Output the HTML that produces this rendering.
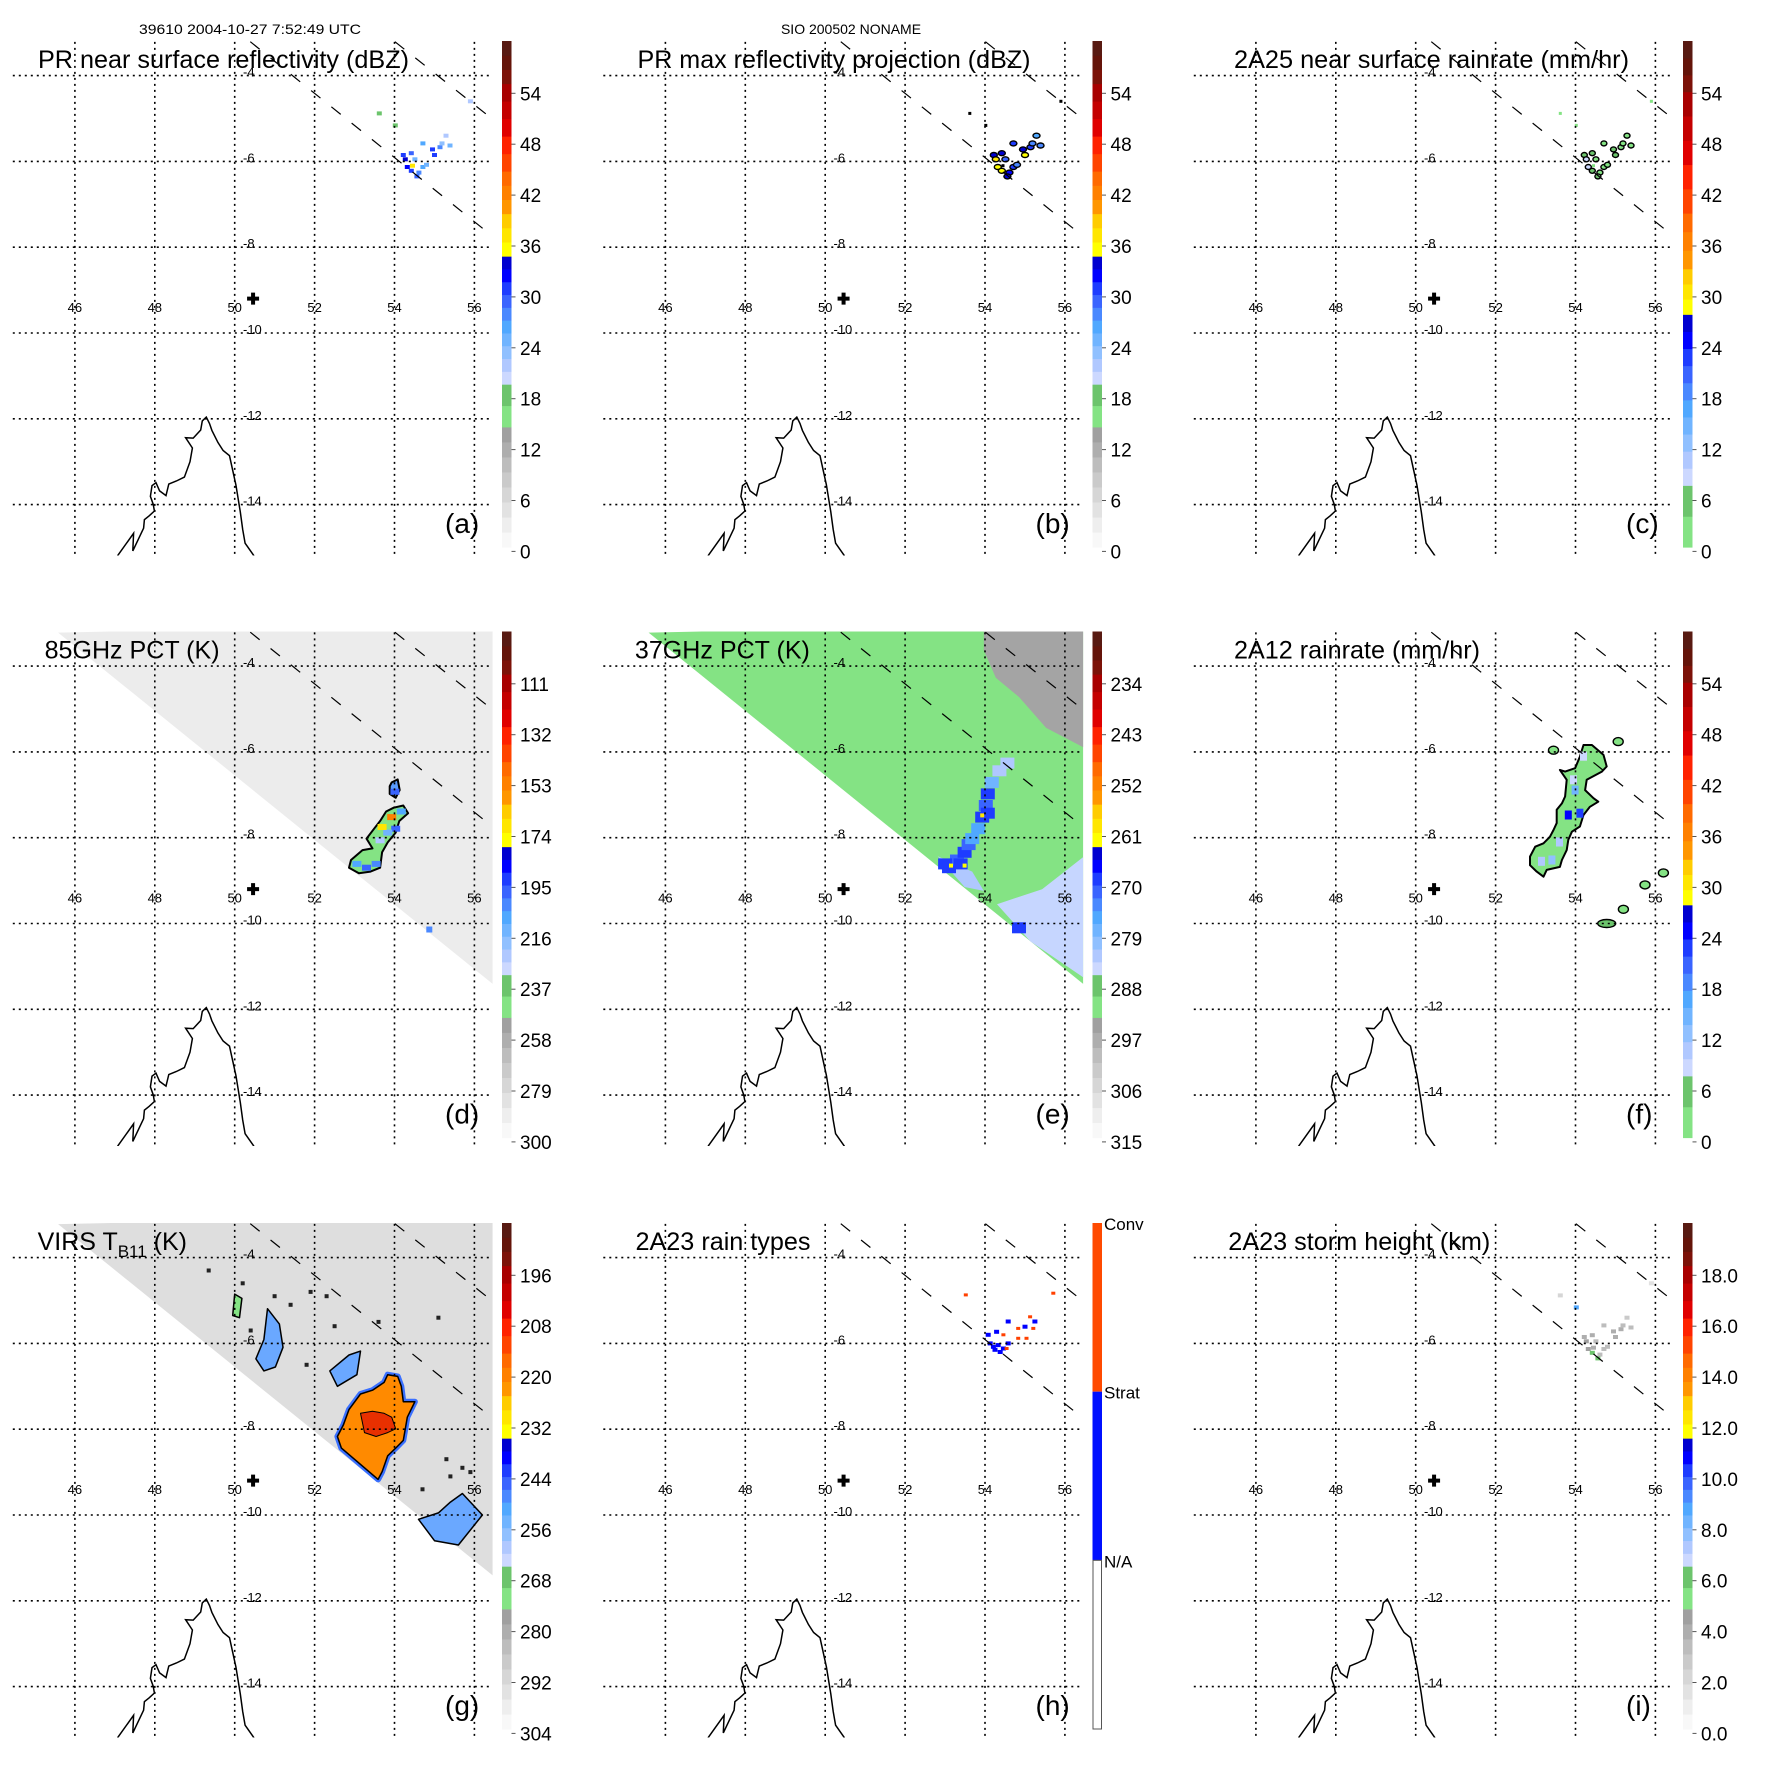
<!DOCTYPE html>
<html><head><meta charset="utf-8"><title>TRMM overpass panels</title>
<style>
html,body{margin:0;padding:0;background:#fff;}
svg{display:block;font-family:"Liberation Sans",Arial,sans-serif;}
</style></head>
<body>
<svg id="fig" xmlns="http://www.w3.org/2000/svg" width="1771" height="1771" viewBox="0 0 1771 1771">
<rect x="0" y="0" width="1771" height="1771" fill="#fff"/>
<text x="139" y="34" font-size="14" textLength="222" lengthAdjust="spacingAndGlyphs">39610 2004-10-27 7:52:49 UTC</text>
<text x="851" y="34" font-size="14" text-anchor="middle">SIO 200502 NONAME</text>
</svg>
<script>
// ---------- data ----------
const gridLons=[46,48,50,52,54,56];
const gridLats=[-4,-6,-8,-10,-12,-14];
const dbzLabels=['0','6','12','18','24','30','36','42','48','54'];
const rainLabels=['0','6','12','18','24','30','36','42','48','54'];
const pct85Labels=['300','279','258','237','216','195','174','153','132','111'];
const pct37Labels=['315','306','297','288','279','270','261','252','243','234'];
const virsLabels=['304','292','280','268','256','244','232','220','208','196'];
const heightLabels=['0.0','2.0','4.0','6.0','8.0','10.0','12.0','14.0','16.0','18.0'];
const typeLabels=['Conv','Strat','N/A'];
const coastLon=[47.07,47.47,47.45,47.72,47.74,47.86,47.99,47.96,47.89,47.93,48.03,48.12,48.28,48.35,48.54,48.74,48.88,48.94,48.77,48.96,49.15,49.19,49.29,49.37,49.43,49.58,49.71,49.87,49.95,50.03,50.14,50.20,50.26,50.48];
const coastLat=[-15.19,-14.67,-15.08,-14.55,-14.35,-14.26,-14.15,-13.99,-13.81,-13.56,-13.49,-13.68,-13.79,-13.52,-13.45,-13.36,-13.0,-12.68,-12.44,-12.45,-12.26,-12.05,-11.96,-12.11,-12.27,-12.55,-12.74,-12.86,-13.20,-13.54,-14.17,-14.58,-14.90,-15.19];
const swath1Lon=[50.39,56.46], swath1Lat=[-3.21,-7.75];
const swath2Lon=[54.01,56.46], swath2Lat=[-3.21,-5.02];
const siteLon=50.46, siteLat=-9.20;
const wedgeLon=[45.58,57,57,56.46], wedgeLat=[-3.22,-3.0,-11.41,-11.41];
// PR cluster (a,b,c)
const prLon=[54.22,54.32,54.42,54.61,54.71,54.51,54.42,54.80,54.95,55.14,55.19,55.29,55.39,54.71,55.00,54.56,54.27,54.45,53.62,55.90,54.02];
const prLat=[-5.85,-6.13,-6.22,-6.26,-6.13,-5.95,-5.81,-6.08,-5.72,-5.67,-5.58,-5.40,-5.63,-5.58,-5.85,-6.35,-5.95,-6.10,-4.88,-4.60,-5.16];
const prDbz=[30,32,31,28,26,25,29,24,30,27,23,22,24,26,31,29,33,37,19,22,19];
const prRain=[6,8,5,3,2,2,4,2,7,3,2,1,2,3,5,4,9,14,1,2,1];
const prHeight=[4.0,4.2,6.2,3.5,3.2,3.3,3.8,3.0,4.1,3.6,3.1,2.8,3.0,3.4,4.0,6.0,4.5,3.9,2.0,1.5,8.5];
// 2A23 rain types (h): 2=conv,1=strat
const typeLon=[54.21,54.08,54.29,54.46,54.58,54.58,55.00,55.25,54.33,54.13,54.83,55.13,55.21,55.04,54.83,55.71,53.52,54.54,54.46,54.38,54.25];
const typeLat=[-6.08,-5.80,-5.73,-6.12,-6.00,-5.49,-5.61,-5.49,-6.04,-6.00,-5.65,-5.38,-5.65,-5.88,-5.88,-4.83,-4.87,-6.12,-5.80,-6.20,-6.15];
const typeVal=[1,1,1,1,1,1,1,1,1,1,2,2,2,2,2,2,2,2,2,1,1];
// 85 GHz blob (d)
const d85Lon=[52.91,53.20,53.45,53.30,53.49,53.64,53.79,53.98,54.22,54.34,54.12,54.03,53.83,53.69,53.64,53.40,53.11,52.86];
const d85Lat=[-8.52,-8.29,-8.25,-8.02,-7.79,-7.61,-7.39,-7.30,-7.25,-7.43,-7.61,-7.88,-8.11,-8.34,-8.70,-8.79,-8.83,-8.70];
const d85bLon=[53.88,53.93,54.08,54.13,54.03,53.88];
const d85bLat=[-6.80,-6.71,-6.64,-6.89,-7.07,-6.98];
const d85cLon=[53.06,53.30,53.54,53.93,54.03,53.83,53.64,54.01,54.17,53.69,54.87];
const d85cLat=[-8.61,-8.70,-8.61,-7.52,-7.79,-7.88,-8.06,-6.93,-7.39,-7.75,-10.14];
const d85cVal=[210,200,205,150,200,215,225,200,210,170,205];
// 37 GHz (e)
const e37GrayLon=[53.97,57,57,56.46,55.53,54.85,54.27,53.97];
const e37GrayLat=[-3.0,-3.0,-5.89,-5.89,-5.44,-4.72,-4.27,-3.63];
const e37LightLon=[54.30,55.43,56.46,57,57,55.14];
const e37LightLat=[-9.55,-9.20,-8.45,-8.45,-11.6,-10.42];
const e37BaseLon=[52.81,53.68,53.97,53.49];
const e37BaseLat=[-8.43,-8.79,-9.24,-9.15];
const e37Lon=[53.10,53.30,53.49,53.59,53.68,53.83,53.93,54.02,54.07,54.17,54.36,54.56,54.07,53.39,53.00,53.93,53.15,53.49,54.85];
const e37Lat=[-8.70,-8.52,-8.34,-8.16,-8.02,-7.79,-7.52,-7.25,-6.98,-6.71,-6.44,-6.26,-7.43,-8.61,-8.61,-7.48,-8.65,-8.65,-10.10];
const e37Val=[268,272,270,272,275,275,268,272,268,278,282,282,270,268,270,260,261,261,270];
// 2A12 (f)
const fMainLon=[54.20,54.41,54.70,54.78,54.66,54.28,54.24,54.45,54.57,54.36,54.20,54.11,53.91,53.82,53.78,53.66,53.61,53.28,53.20,53.03,52.86,52.86,52.99,53.20,53.36,53.45,53.53,53.53,53.66,53.74,53.78,53.61,53.74,53.99,54.11];
const fMainLat=[-5.84,-5.84,-6.07,-6.34,-6.46,-6.65,-6.89,-7.08,-7.16,-7.28,-7.47,-7.74,-7.86,-8.05,-8.29,-8.52,-8.68,-8.75,-8.91,-8.79,-8.64,-8.44,-8.21,-8.13,-7.98,-7.82,-7.66,-7.35,-7.20,-7.04,-6.65,-6.42,-6.46,-6.38,-6.11];
const fCoreLon=[53.82,54.11,53.99,53.41,53.95,54.20,53.60,53.15];
const fCoreLat=[-7.47,-7.43,-6.89,-8.52,-6.65,-6.10,-8.10,-8.55];
const fCoreVal=[24,22,14,12,9,8,10,11];
const fSmallLon=[55.07,53.45,55.20,54.78,55.74,56.20];
const fSmallLat=[-5.76,-5.96,-9.67,-10.0,-9.10,-8.82];
const fSmallVal=[2,1,3,4,1,1];
// VIRS (g)
const gOrLon=[52.67,52.57,52.72,52.86,53.15,53.45,53.74,53.83,54.08,54.17,54.22,54.51,54.32,54.22,54.03,53.83,53.69,53.59];
const gOrLat=[-8.44,-8.17,-7.90,-7.54,-7.18,-7.09,-6.91,-6.73,-6.77,-7.00,-7.36,-7.36,-7.72,-8.26,-8.44,-8.62,-8.99,-9.17];
const gRedLon=[53.15,53.45,53.74,53.93,54.03,53.83,53.54,53.25];
const gRedLat=[-7.63,-7.58,-7.63,-7.72,-7.99,-8.08,-8.17,-8.08];
const gB1Lon=[50.82,51.12,51.21,51.02,50.73,50.53,50.73];
const gB1Lat=[-5.19,-5.55,-6.09,-6.55,-6.64,-6.36,-5.91];
const gB2Lon=[52.38,52.86,53.15,53.06,52.57];
const gB2Lat=[-6.64,-6.27,-6.18,-6.73,-7.00];
const gB3Lon=[54.60,55.10,55.40,55.70,56.2,55.60,55.00];
const gB3Lat=[-10.10,-9.95,-9.70,-9.50,-10.00,-10.70,-10.60];
const gB4Lon=[50.00,50.18,50.12,49.95];
const gB4Lat=[-4.85,-4.95,-5.40,-5.35];
const gDotLon=[49.35,50.2,50.4,51.0,51.4,51.9,52.3,53.6,55.1,55.3,55.7,55.4,54.7,55.9,51.8,52.5];
const gDotLat=[-4.3,-4.6,-5.7,-4.9,-5.1,-4.8,-4.9,-5.5,-5.4,-8.7,-8.9,-9.1,-9.4,-9.0,-6.5,-5.6];

// ---------- layout helpers ----------
const NS='http://www.w3.org/2000/svg';
const svg=document.getElementById('fig');
const LON0=46,X0=74.9,DXD=39.95,LAT0=-4,Y0=75.6,DYD=42.9;
function X(lon){return X0+(lon-LON0)*DXD;}
function Y(lat){return Y0+(LAT0-lat)*DYD;}
function pts(lons,lats){return lons.map((l,i)=>X(l).toFixed(1)+','+Y(lats[i]).toFixed(1)).join(' ');}
function mk(tag,attrs,parent){const e=document.createElementNS(NS,tag);for(const k in attrs)e.setAttribute(k,attrs[k]);parent.appendChild(e);return e;}

const PAL={gray:['#f8f8f8','#eeeeee','#e2e2e2','#d6d6d6','#cacaca','#bdbdbd','#aeaeae','#a0a0a0'],
green:['#84e384','#6cc46c'],
blue:['#ccd8ff','#b0c8ff','#90c0ff','#70b4ff','#50a8ff','#4a88ff','#3a64ff','#1e3cff','#0000ff','#0000d0'],
yellow:['#ffff00','#ffe600','#ffcc00'],orange:['#ff9600','#ff8000','#ff6a00'],
red:['#ff4400','#ff2200','#e00000','#c40000','#a80000'],dark:['#7c1208','#64140a','#581a12']};
const STD=[['gray',0,0.2375],['green',0.2375,0.322],['blue',0.322,0.575],['yellow',0.575,0.659],['orange',0.659,0.743],['red',0.743,0.916],['dark',0.916,1]];
const RAIN=[['green',0,0.122],['blue',0.122,0.46],['yellow',0.46,0.55],['orange',0.55,0.66],['red',0.66,0.9],['dark',0.9,1]];
function segs(def){const out=[];def.forEach(([p,a,b])=>{const c=PAL[p];const n=c.length;c.forEach((col,i)=>out.push([a+(b-a)*i/n,a+(b-a)*(i+1)/n,col]));});return out;}
const STDS=segs(STD), RAINS=segs(RAIN);
function colorAt(s,f){f=Math.max(0,Math.min(0.9999,f));for(const g of s){if(f>=g[0]&&f<g[1])return g[2];}return s[s.length-1][2];}

const BAR_X=502,BAR_W=9.5,BAR_TOP=41,BAR_BOT=547,LAB_Y0=557.4,LAB_STEP=50.9;
const panels=[
 {id:'a',ox:0,oy:0,title:'PR near surface reflectivity (dBZ)',tx:38,tl:371,bar:STDS,labels:dbzLabels,letter:'(a)'},
 {id:'b',ox:590.5,oy:0,title:'PR max reflectivity projection (dBZ)',tx:47,tl:393,bar:STDS,labels:dbzLabels,letter:'(b)'},
 {id:'c',ox:1181,oy:0,title:'2A25 near surface rainrate (mm/hr)',tx:53,tl:395,bar:RAINS,labels:rainLabels,letter:'(c)'},
 {id:'d',ox:0,oy:590.5,title:'85GHz PCT (K)',tx:44.6,tl:175,bar:STDS,labels:pct85Labels,letter:'(d)'},
 {id:'e',ox:590.5,oy:590.5,title:'37GHz PCT (K)',tx:44.4,tl:175,bar:STDS,labels:pct37Labels,letter:'(e)'},
 {id:'f',ox:1181,oy:590.5,title:'2A12 rainrate (mm/hr)',tx:53,tl:246,bar:RAINS,labels:rainLabels,letter:'(f)'},
 {id:'g',ox:0,oy:1182,title:'VIRS',tx:37.6,tl:0,bar:STDS,labels:virsLabels,letter:'(g)'},
 {id:'h',ox:590.5,oy:1182,title:'2A23 rain types',tx:45,tl:175,bar:null,labels:typeLabels,letter:'(h)'},
 {id:'i',ox:1181,oy:1182,title:'2A23 storm height (km)',tx:47.3,tl:262,bar:STDS,labels:heightLabels,letter:'(i)'}
];

const defs=mk('defs',{},svg);
const cp=mk('clipPath',{id:'mapclip'},defs);
mk('rect',{x:12.8,y:41,width:479.8,height:514.5},cp);

function cellRect(g,lon,lat,col,w,h,name){
  const r=mk('rect',{x:(X(lon)-w/2).toFixed(1),y:(Y(lat)-h/2).toFixed(1),width:w,height:h,fill:col},g);
  
  
  return r;
}
function outlined(g,lon,lat,col,rx,ry,name){
  const e=mk('ellipse',{cx:X(lon).toFixed(1),cy:Y(lat).toFixed(1),rx:rx,ry:ry,fill:col,stroke:'#000','stroke-width':1.4},g);
  
  
  return e;
}
function poly(g,lons,lats,fill,stroke,sw,name){
  const p=mk('polygon',{points:pts(lons,lats),fill:fill,stroke:stroke||'none','stroke-width':sw||0,'stroke-linejoin':'round'},g);
  
  
  return p;
}

panels.forEach(P=>{
  const g=mk('g',{transform:`translate(${P.ox},${P.oy})`},svg);
  
  
  const map=mk('g',{'clip-path':'url(#mapclip)'},g);
  
  

  if(P.id==='a'){prLon.forEach((l,i)=>cellRect(map,l,prLat[i],colorAt(STDS,prDbz[i]/60),5,4,'pr-pixel'));}
  if(P.id==='b'){prLon.forEach((l,i)=>{if(i<17)outlined(map,l,prLat[i],colorAt(STDS,(prDbz[i]+4)/60),3.5,2.5,'max-refl-cell');else cellRect(map,l,prLat[i],'#000',3,3,'max-refl-dot');});}
  if(P.id==='c'){prLon.forEach((l,i)=>{if(i<17)outlined(map,l,prLat[i],colorAt(RAINS,prRain[i]/60),3,2.5,'rain-cell');else cellRect(map,l,prLat[i],colorAt(RAINS,0.02),3,3,'rain-dot');});}
  if(P.id==='i'){prLon.forEach((l,i)=>cellRect(map,l,prLat[i],colorAt(STDS,prHeight[i]/20),5,4,'height-pixel'));}
  if(P.id==='h'){typeLon.forEach((l,i)=>{const c=typeVal[i]===2?'#ff4000':'#0000ff';const s=typeVal[i]===2?4:5;cellRect(map,l,typeLat[i],c,s,s-1,'rain-type-pixel');});}
  if(P.id==='d'){
    poly(map,wedgeLon,wedgeLat,'#ececec',null,0,'pct85-swath');
    poly(map,d85Lon,d85Lat,'#84e384','#000',2,'pct85-blob');
    poly(map,d85bLon,d85bLat,'#5a9cff','#000',2,'pct85-blob-small');
    d85cLon.forEach((l,i)=>cellRect(map,l,d85cLat[i],colorAt(STDS,(300-d85cVal[i])/210),i===10?6:9,6,'pct85-core'));
  }
  if(P.id==='e'){
    poly(map,wedgeLon,wedgeLat,'#84e384',null,0,'pct37-swath');
    poly(map,e37GrayLon,e37GrayLat,'#a4a4a4',null,0,'pct37-warm-region');
    poly(map,e37LightLon,e37LightLat,'#c6d6ff',null,0,'pct37-light-region');
    poly(map,e37BaseLon,e37BaseLat,'#b0c8ff',null,0,'pct37-base');
    e37Lon.forEach((l,i)=>cellRect(map,l,e37Lat[i],colorAt(STDS,(315-e37Val[i])/90),i>=15&&i<18?4:14,i>=15&&i<18?4:11,'pct37-cell'));
  }
  if(P.id==='f'){
    poly(map,fMainLon,fMainLat,'#84e384','#000',2,'rain-2a12-blob');
    fCoreLon.forEach((l,i)=>cellRect(map,l,fCoreLat[i],colorAt(RAINS,fCoreVal[i]/60),7,9,'rain-2a12-core'));
    fSmallLon.forEach((l,i)=>outlined(map,l,fSmallLat[i],colorAt(RAINS,fSmallVal[i]/60),i===3?9:5,4,'rain-2a12-small'));
  }
  if(P.id==='g'){
    poly(map,wedgeLon,wedgeLat,'#dedede',null,0,'virs-swath');
    poly(map,gB1Lon,gB1Lat,'#6aa8ff','#000',1.5,'virs-cloud-1');
    poly(map,gB2Lon,gB2Lat,'#6aa8ff','#000',1.5,'virs-cloud-2');
    poly(map,gB3Lon,gB3Lat,'#6aa8ff','#000',1.5,'virs-cloud-3');
    poly(map,gB4Lon,gB4Lat,'#84e384','#000',1.5,'virs-cloud-4');
    poly(map,gOrLon,gOrLat,'none','#3a70ff',6,'virs-cold-fringe');
    poly(map,gOrLon,gOrLat,'#ff8a00','#000',1.5,'virs-cold-core');
    poly(map,gRedLon,gRedLat,'#e83000','#000',1,'virs-coldest');
    gDotLon.forEach((l,i)=>cellRect(map,l,gDotLat[i],'#222',4,4,'virs-dot'));
  }

  gridLons.forEach(lon=>{const ln=mk('line',{x1:X(lon),x2:X(lon),y1:41.9,y2:555.5,stroke:'#000','stroke-width':1.6,'stroke-dasharray':'2,4'},g);
    
    });
  gridLats.forEach(lat=>{const ln=mk('line',{x1:12.8,x2:492.6,y1:Y(lat),y2:Y(lat),stroke:'#000','stroke-width':1.6,'stroke-dasharray':'2,4'},g);
    
    });
  [[swath1Lon,swath1Lat],[swath2Lon,swath2Lat]].forEach(([lo,la],k)=>{const s=mk('line',{x1:X(lo[0]),y1:Y(la[0]),x2:X(lo[1]),y2:Y(la[1]),stroke:'#000','stroke-width':1.2,'stroke-dasharray':'12,14','clip-path':'url(#mapclip)'},g);
    
    });
  const cst=mk('polyline',{points:pts(coastLon,coastLat),fill:'none',stroke:'#000','stroke-width':1.5,'clip-path':'url(#mapclip)'},g);
  
  
  gridLons.forEach(lon=>{const t=mk('text',{x:X(lon),y:312,'font-size':13,'text-anchor':'middle'},g);t.textContent=String(lon);
    
    });
  gridLats.forEach(lat=>{const t=mk('text',{x:243,y:Y(lat)+1,'font-size':13},g);t.textContent=String(lat);
    
    });
  const sx=X(siteLon),sy=Y(siteLat);
  const pl=mk('path',{d:`M${sx-6},${sy-2}h4v-4h4v4h4v4h-4v4h-4v-4h-4z`,fill:'#000'},g);
  
  
  const tt=mk('text',{x:P.tx,y:68,'font-size':25},g);
  if(P.id==='g'){tt.innerHTML='VIRS T<tspan font-size="17" dy="7">B11</tspan><tspan dy="-7"> (K)</tspan>';}
  else{tt.textContent=P.title;tt.setAttribute('textLength',P.tl);tt.setAttribute('lengthAdjust','spacingAndGlyphs');}
  
  
  const lt=mk('text',{x:445,y:533,'font-size':28},g);lt.textContent=P.letter;
  
  

  const cb=mk('g',{},g);
  
  
  const H=BAR_BOT-BAR_TOP;
  if(P.bar){
    P.bar.forEach(s=>{const r=mk('rect',{x:BAR_X,y:(BAR_BOT-s[1]*H).toFixed(2),width:BAR_W,height:((s[1]-s[0])*H+0.6).toFixed(2),fill:s[2]},cb);
      
      });
    P.labels.forEach((lab,i)=>{const y=LAB_Y0-i*LAB_STEP;
      mk('line',{x1:BAR_X+BAR_W,x2:BAR_X+BAR_W+4,y1:y-6,y2:y-6,stroke:'#555','stroke-width':1},cb);
      const t=mk('text',{x:520,y:y+1,'font-size':19},cb);t.textContent=lab;
      
      });
  }else{
    const third=H/3;
    const r1=mk('rect',{x:BAR_X,y:BAR_TOP,width:BAR_W,height:third,fill:'#ff4a00'},cb);
    
    
    const r2=mk('rect',{x:BAR_X,y:BAR_TOP+third,width:BAR_W,height:third,fill:'#0010ff'},cb);
    
    
    const r3=mk('rect',{x:BAR_X+0.5,y:BAR_TOP+2*third,width:BAR_W-1,height:third,fill:'#fff',stroke:'#555','stroke-width':1},cb);
    
    
    P.labels.forEach((lab,i)=>{const t=mk('text',{x:BAR_X+BAR_W+2,y:BAR_TOP+i*third+7,'font-size':17},cb);t.textContent=lab;
      
      });
  }
});
</script>
</body></html>
